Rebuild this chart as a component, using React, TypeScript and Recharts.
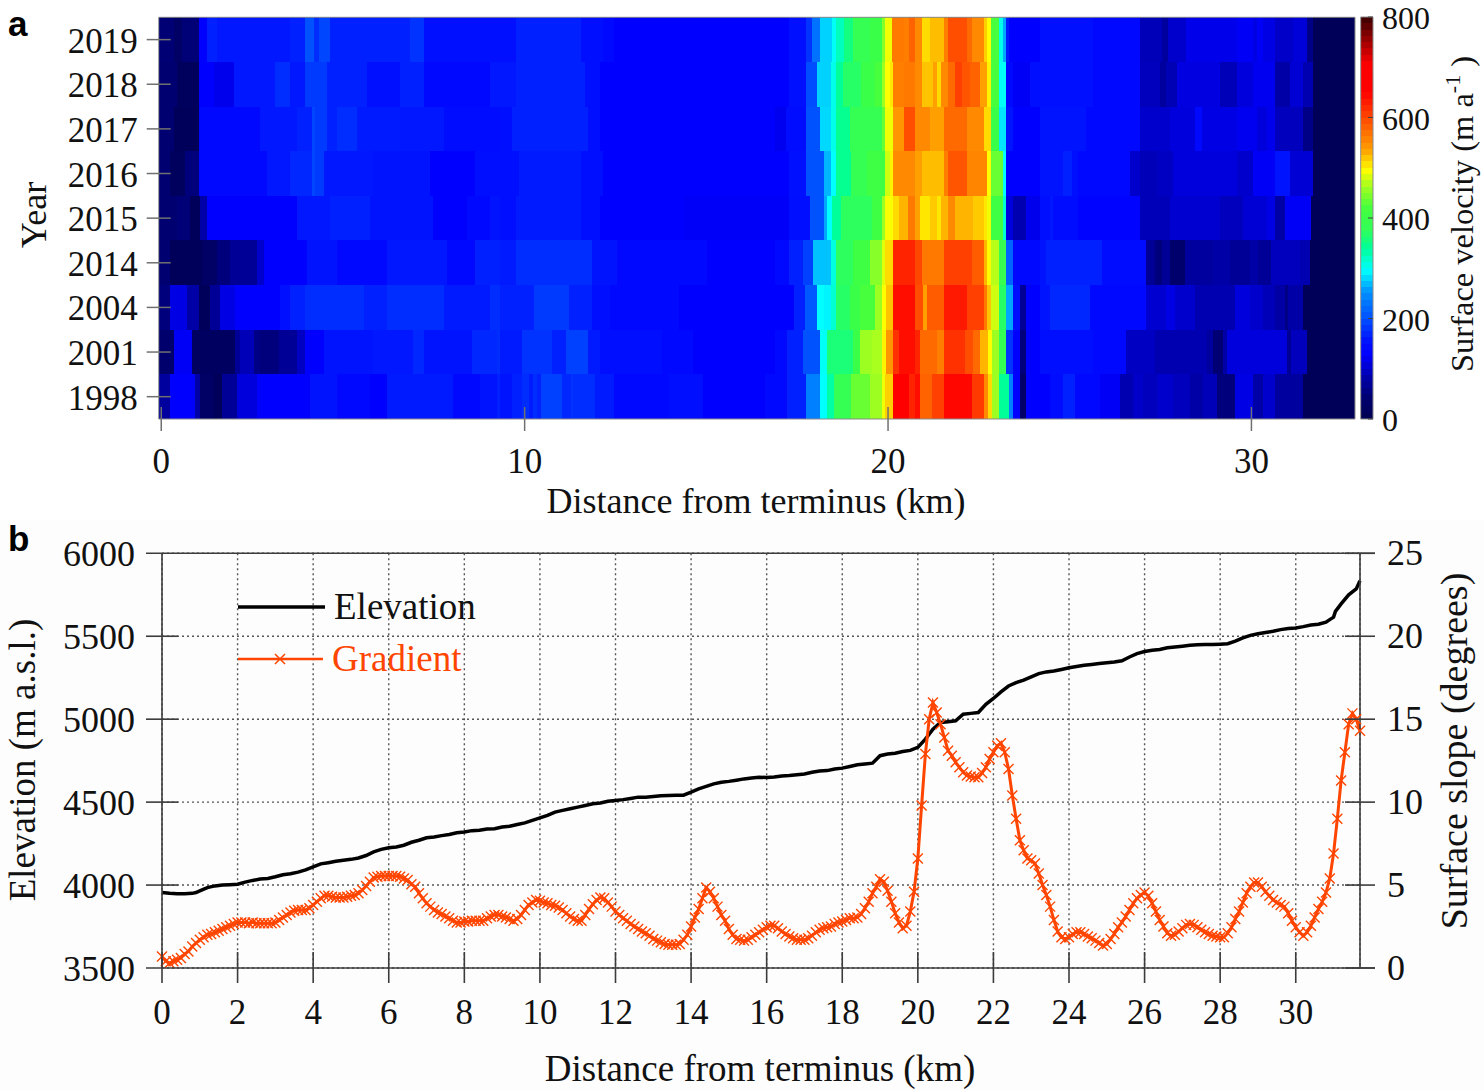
import React from 'react';
import {
  ComposedChart,
  Line,
  XAxis,
  YAxis,
  CartesianGrid,
  ReferenceArea,
  Legend,
} from 'recharts';

type Seg = [number, number]; // [end of the stretch in km, velocity in m/a]

const years = ['1998', '2001', '2004', '2014', '2015', '2016', '2017', '2018', '2019'];

const row2019: Seg[] = [[0.34,45],[0.57,28],[1.05,47],[1.26,127],[1.53,165],[3.55,158],[3.96,165],[4.19,202],[4.33,174],[4.65,193],[6.85,165],[7.22,179],[9.75,152],[11.55,165],[12.17,149],[12.45,140],[17.28,127],[17.75,152],[17.9,179],[18.13,228],[18.46,278],[18.56,300],[18.8,325],[19.03,355],[19.51,385],[19.84,400],[19.93,450],[20.12,490],[20.45,565],[20.59,560],[20.74,580],[20.93,552],[21.16,510],[21.54,523],[21.64,560],[22.16,595],[22.3,575],[22.63,552],[22.73,515],[22.82,495],[23.06,420],[23.15,305],[23.25,261],[23.34,160],[24.17,127],[25.65,152],[26.93,140],[27.53,90],[27.71,74],[28.21,100],[29.59,116],[30.05,122],[30.14,113],[30.32,122],[30.64,113],[31.15,98],[31.52,107],[31.7,57],[32.85,10]];
const row2018: Seg[] = [[0.43,42],[1.05,17],[1.44,127],[1.99,117],[3.14,158],[3.55,174],[3.96,158],[4.56,184],[5.66,165],[6.57,152],[7.22,165],[9.05,140],[9.75,158],[11.65,165],[12.07,149],[17.28,127],[17.75,152],[18.04,197],[18.42,278],[18.56,305],[18.75,340],[19.25,370],[19.65,400],[19.84,420],[19.93,460],[20.05,495],[20.14,505],[20.45,560],[20.74,565],[20.93,552],[21.24,520],[21.35,535],[21.45,510],[21.64,552],[21.83,575],[22.03,605],[22.25,590],[22.54,580],[22.73,535],[22.82,500],[23.06,420],[23.25,300],[23.44,140],[23.91,122],[24.17,149],[25.65,152],[26.93,140],[27.48,92],[27.66,74],[27.94,88],[29.13,111],[29.59,90],[30.05,109],[30.64,119],[31.06,80],[31.42,104],[31.7,85],[32.85,10]];
const row2017: Seg[] = [[0.34,42],[1.05,15],[2.72,140],[3.73,158],[4.14,165],[4.24,193],[4.56,184],[4.83,165],[5.38,174],[6.57,160],[7.77,158],[9.33,146],[9.66,149],[11.74,165],[12.07,149],[16.9,127],[17.19,119],[17.75,146],[18.13,202],[18.42,281],[18.56,305],[18.94,345],[19.84,385],[19.93,435],[20.14,490],[20.45,543],[20.74,595],[21.16,552],[21.54,535],[22.16,575],[22.63,552],[22.82,510],[23.06,400],[23.25,286],[23.44,155],[24.17,127],[25.46,155],[26.93,140],[27.76,100],[28.44,109],[28.63,140],[29.59,113],[30.14,119],[30.42,109],[30.64,117],[31.42,92],[31.7,57],[32.85,10]];
const row2016: Seg[] = [[0.25,42],[0.66,17],[1.05,50],[2.91,140],[3.55,158],[4.14,170],[4.24,193],[4.47,184],[5.84,158],[7.4,155],[8.64,127],[9.33,149],[9.85,149],[11.55,160],[12.17,149],[17.28,127],[17.75,152],[18.23,202],[18.42,267],[18.56,296],[18.99,345],[19.41,385],[19.93,410],[20.05,478],[20.14,500],[20.74,552],[20.93,535],[21.54,523],[21.64,560],[22.16,590],[22.73,556],[22.82,495],[23.15,435],[23.25,296],[24.17,127],[24.82,155],[25.05,165],[25.23,149],[26.66,140],[26.93,100],[27.39,90],[27.85,95],[29.59,109],[30.05,100],[30.64,122],[31.06,155],[31.7,104],[32.85,10]];
const row2015: Seg[] = [[0.43,42],[0.8,47],[1.07,15],[1.26,80],[3.73,127],[4.65,158],[5.75,165],[7.49,155],[8.41,127],[9.05,140],[9.33,155],[9.75,149],[11.55,160],[12.07,149],[14.39,127],[17.28,124],[17.85,149],[18.23,202],[18.32,261],[18.46,296],[18.7,340],[19.55,375],[19.84,410],[19.93,460],[20.14,493],[20.31,510],[20.55,526],[20.74,565],[20.88,535],[21.16,505],[21.35,517],[21.45,505],[21.64,526],[21.83,552],[22.35,526],[22.63,517],[22.73,505],[22.82,490],[23.15,410],[23.25,315],[23.44,109],[23.81,85],[24.17,117],[24.46,149],[24.55,158],[25.23,146],[26.93,132],[27.76,90],[29.13,102],[29.77,92],[30.42,104],[30.64,113],[30.92,80],[31.65,122],[32.85,10]];
const row2014: Seg[] = [[0.25,42],[1.12,15],[1.53,28],[1.9,50],[2.63,68],[2.82,100],[4.01,127],[4.83,155],[6.21,140],[7.86,158],[8.64,140],[9.33,165],[9.75,160],[11.84,174],[12.55,155],[15.01,140],[16.9,127],[17.28,140],[17.66,165],[17.94,188],[18.42,272],[18.56,310],[19.03,375],[19.51,410],[19.84,450],[19.93,485],[20.14,510],[20.74,625],[20.93,600],[21.54,565],[22.3,605],[22.63,585],[22.73,526],[22.82,497],[23.06,470],[23.25,390],[23.44,217],[24.17,140],[24.36,155],[25.88,165],[27.11,146],[27.34,68],[27.53,50],[27.76,68],[28.17,38],[28.95,74],[29.41,80],[29.96,68],[30.19,80],[30.55,68],[31.33,92],[31.61,85],[32.85,10]];
const row2004: Seg[] = [[0.25,50],[0.71,113],[1.05,80],[1.35,15],[1.62,68],[2.04,113],[3.27,127],[3.55,152],[3.96,165],[5.57,174],[6.21,165],[7.77,174],[9.05,160],[9.33,174],[10.27,165],[11.22,184],[11.84,165],[12.36,149],[14.25,140],[17.42,127],[17.71,165],[18.04,207],[18.23,296],[18.42,292],[18.56,315],[18.94,370],[19.22,400],[19.65,420],[19.84,460],[19.95,495],[20.14,520],[20.74,640],[20.97,595],[21.07,535],[21.54,585],[22.16,632],[22.63,605],[22.73,565],[22.82,520],[23.06,478],[23.25,370],[23.44,261],[23.63,149],[23.81,68],[24.17,127],[24.46,155],[25.56,170],[27.11,140],[27.66,102],[27.89,113],[28.44,100],[29.54,85],[29.96,109],[30.32,100],[30.64,90],[30.92,78],[31.01,57],[31.42,80],[32.85,10]];
const row2001: Seg[] = [[0.34,38],[0.84,122],[2.04,22],[2.17,68],[2.54,90],[2.72,57],[3.23,50],[3.73,68],[3.96,95],[4.47,127],[5.84,155],[6.94,158],[7.22,170],[8.55,155],[9.23,170],[9.33,174],[9.94,160],[10.75,179],[11.14,165],[11.74,188],[12.07,160],[13.78,149],[14.63,140],[16.9,127],[17.23,140],[17.66,165],[18.13,202],[18.32,300],[19.03,360],[19.22,400],[19.55,460],[19.84,465],[19.95,500],[20.14,543],[20.31,615],[20.74,640],[20.88,625],[21.35,575],[21.54,560],[22.11,615],[22.35,595],[22.54,575],[22.75,526],[22.85,495],[23.06,460],[23.25,380],[23.44,179],[23.64,127],[23.81,50],[24.17,127],[25.65,149],[26.56,140],[27.34,95],[28.77,85],[28.95,74],[29.22,45],[29.32,80],[30.97,109],[31.1,68],[31.52,92],[32.85,10]];
const row1998: Seg[] = [[0.25,74],[0.94,127],[1.07,80],[1.44,28],[1.67,13],[2.08,68],[2.63,109],[4.1,127],[4.83,155],[5.75,140],[6.21,127],[8.04,160],[8.78,140],[9.23,155],[9.33,165],[9.66,155],[9.94,165],[10.13,174],[10.24,160],[10.35,174],[10.46,165],[11.03,188],[11.27,170],[11.33,179],[11.93,174],[12.45,160],[13.97,140],[14.91,149],[16.62,127],[17.23,140],[17.75,165],[18.13,238],[18.32,296],[18.51,335],[18.99,385],[19.51,435],[19.84,460],[19.93,490],[20.14,515],[20.59,650],[20.74,625],[20.88,640],[21.21,580],[21.54,605],[22.3,645],[22.63,610],[22.75,552],[22.85,510],[23.06,460],[23.34,340],[23.45,238],[23.64,127],[23.81,32],[24.17,127],[24.46,127],[24.82,146],[25.14,165],[25.83,140],[26.38,122],[26.75,85],[27.02,98],[27.39,92],[27.85,100],[28.31,92],[28.67,80],[29.04,90],[29.54,50],[30.05,113],[30.32,80],[30.64,100],[31.42,74],[32.85,10]];

const velocityRows = [row1998, row2001, row2004, row2014, row2015, row2016, row2017, row2018, row2019];

const distanceTicksA = [0, 10, 20, 30];
const velocityTicks = [0, 200, 400, 600, 800];
const distanceTicksB = [0, 2, 4, 6, 8, 10, 12, 14, 16, 18, 20, 22, 24, 26, 28, 30];
const elevationTicks = [3500, 4000, 4500, 5000, 5500, 6000];
const slopeTicks = [0, 5, 10, 15, 20, 25];

// surface slope, one value every 0.1 km, one line per km
const slope = [
  0.7,0.4,0.3,0.4,0.5,0.6,0.85,1.0,1.3,1.5,
  1.7,1.85,2.0,2.05,2.15,2.25,2.35,2.45,2.55,2.65,
  2.75,2.75,2.75,2.7,2.75,2.7,2.7,2.7,2.7,2.7,
  2.75,2.9,3.05,3.2,3.35,3.45,3.5,3.5,3.5,3.6,
  3.8,4.0,4.2,4.35,4.35,4.3,4.25,4.25,4.25,4.3,
  4.35,4.4,4.5,4.7,4.95,5.2,5.45,5.5,5.55,5.55,
  5.55,5.55,5.55,5.5,5.4,5.3,5.05,4.9,4.5,4.2,
  3.9,3.7,3.5,3.35,3.25,3.1,3.0,2.85,2.75,2.75,
  2.8,2.8,2.85,2.85,2.85,2.85,3.0,3.1,3.2,3.2,
  3.1,3.05,2.95,2.85,2.95,3.2,3.5,3.8,3.95,4.1,
  4.05,3.95,3.9,3.8,3.75,3.65,3.5,3.3,3.1,2.95,
  2.85,2.85,3.2,3.55,3.85,4.1,4.25,4.2,3.95,3.7,
  3.4,3.2,3.0,2.85,2.65,2.5,2.35,2.2,2.1,1.95,
  1.75,1.65,1.55,1.45,1.4,1.4,1.4,1.45,1.7,2.0,
  2.5,3.05,3.55,4.2,4.85,4.6,4.2,3.7,3.2,2.85,
  2.35,2.0,1.75,1.7,1.65,1.7,1.85,2.0,2.15,2.3,
  2.45,2.55,2.55,2.4,2.2,2.05,1.9,1.8,1.7,1.7,
  1.7,1.8,1.95,2.15,2.3,2.4,2.45,2.5,2.65,2.75,
  2.8,2.9,3.0,3.0,3.05,3.25,3.6,4.0,4.5,4.9,
  5.35,5.2,4.65,4.0,3.3,2.75,2.4,2.55,3.4,4.6,
  6.6,9.8,12.9,15.0,16.0,15.4,14.7,13.9,13.1,12.8,
  12.4,12.1,11.8,11.6,11.55,11.5,11.5,11.75,12.1,12.6,
  13.0,13.4,13.55,13.0,12.0,10.4,9.0,7.7,7.1,6.6,
  6.5,6.3,5.7,5.0,4.4,3.7,2.9,2.2,1.85,1.75,
  1.85,2.05,2.15,2.15,2.05,1.9,1.8,1.65,1.5,1.35,
  1.45,1.75,2.05,2.45,2.75,3.1,3.5,3.9,4.2,4.4,
  4.55,4.35,3.9,3.4,2.9,2.5,2.1,1.95,2.0,2.2,
  2.4,2.6,2.65,2.6,2.45,2.3,2.15,2.05,1.95,1.9,
  1.85,1.85,2.1,2.45,2.95,3.4,3.95,4.5,4.9,5.15,
  5.15,4.9,4.6,4.35,4.1,3.95,3.8,3.7,3.3,2.85,
  2.45,2.15,1.95,2.15,2.55,3.05,3.55,4.0,4.55,5.4,
  6.9,9.0,11.3,13.0,14.7,15.35,15.0,14.3,
];

// [km, elevation m]
const elevation: Seg[] = [
  [0,3955],[0.2,3950],[0.4,3948],[0.6,3947],[0.8,3950],[0.9,3955],[1,3965],[1.2,3985],[1.4,3995],[1.6,4000],[1.8,4002],
  [2,4005],[2.2,4018],[2.4,4028],[2.6,4036],[2.8,4040],[3,4050],[3.2,4062],[3.4,4068],[3.6,4078],[3.8,4092],
  [4,4110],[4.2,4128],[4.4,4135],[4.6,4143],[4.8,4150],[5,4155],[5.2,4163],[5.4,4178],[5.6,4200],[5.8,4215],
  [6,4225],[6.2,4230],[6.4,4240],[6.6,4258],[6.8,4270],[7,4285],[7.2,4290],[7.4,4298],[7.6,4305],[7.8,4315],
  [8,4320],[8.2,4328],[8.4,4330],[8.6,4338],[8.8,4340],[9,4350],[9.2,4355],[9.4,4365],[9.6,4375],[9.8,4390],
  [10,4405],[10.2,4420],[10.4,4440],[10.6,4450],[10.8,4460],[11,4470],[11.2,4480],[11.4,4490],[11.6,4495],[11.8,4505],
  [12,4510],[12.2,4515],[12.4,4522],[12.6,4530],[12.8,4530],[13,4534],[13.2,4538],[13.4,4540],[13.6,4542],[13.8,4542],
  [14,4560],[14.2,4580],[14.4,4595],[14.6,4610],[14.8,4620],[15,4625],[15.2,4632],[15.4,4640],[15.6,4645],[15.8,4650],
  [16,4648],[16.2,4652],[16.4,4658],[16.6,4660],[16.8,4665],[17,4670],[17.2,4680],[17.4,4688],[17.6,4690],[17.8,4700],
  [18,4705],[18.2,4715],[18.4,4725],[18.6,4730],[18.8,4735],[19,4780],[19.2,4790],[19.4,4795],[19.6,4805],[19.8,4812],
  [20,4830],[20.2,4880],[20.4,4940],[20.6,4980],[20.8,4985],[21,4990],[21.2,5030],[21.4,5035],[21.6,5040],[21.8,5090],
  [22,5125],[22.2,5165],[22.4,5200],[22.6,5220],[22.8,5235],[23,5255],[23.2,5275],[23.4,5285],[23.6,5290],[23.8,5300],
  [24,5310],[24.2,5318],[24.4,5325],[24.6,5330],[24.8,5335],[25,5340],[25.2,5345],[25.4,5352],[25.6,5375],[25.8,5395],
  [26,5408],[26.2,5415],[26.4,5420],[26.6,5430],[26.8,5435],[27,5440],[27.2,5445],[27.4,5448],[27.6,5450],[27.8,5450],
  [28,5452],[28.2,5455],[28.4,5470],[28.6,5490],[28.8,5505],[29,5515],[29.2,5522],[29.4,5530],[29.6,5540],[29.8,5547],
  [30,5550],[30.2,5558],[30.4,5568],[30.6,5572],[30.8,5585],[30.9,5600],[31,5615],[31.05,5650],[31.2,5695],[31.4,5750],[31.6,5785],[31.7,5835],
];

const slopeRows = slope.map((v, i) => ({ km: i / 10, slope: v }));
const elevationRows = elevation.map(([km, m]) => ({ km, m }));
// the heat map only needs its axes set up, the cells are reference areas
const heatAxisRows = distanceTicksA.map((x, i) => ({ x, y: i }));
const barAxisRows = velocityTicks.map((y) => ({ x: 0.5, y }));

const SERIF = '"Liberation Serif", "Times New Roman", serif';
const SANS = '"Liberation Sans", Arial, sans-serif';
const ORANGE = '#ff4500';
const AXIS = '#3c3c3c';

// colours
const rampStops: [number, number[]][] = [
  [0, [0, 0, 80]],
  [42, [0, 0, 112]],
  [82, [0, 0, 170]],
  [127, [0, 0, 255]],
  [153, [0, 16, 255]],
  [200, [0, 80, 255]],
  [252, [0, 144, 255]],
  [296, [0, 255, 255]],
  [340, [0, 255, 153]],
  [380, [51, 255, 85]],
  [416, [64, 255, 64]],
  [462, [160, 255, 32]],
  [495, [255, 255, 0]],
  [535, [255, 160, 0]],
  [575, [255, 106, 0]],
  [650, [255, 0, 0]],
  [705, [255, 0, 0]],
  [800, [58, 0, 0]],
];
const LEVEL = 12.5;
const colourLevels = Array.from({ length: 64 }, (_, i) => i);

const colourAt = (v: number) => {
  for (let i = 1; i < rampStops.length; i++) {
    const [v0, c0] = rampStops[i - 1];
    const [v1, c1] = rampStops[i];
    if (v <= v1) {
      const t = (v - v0) / (v1 - v0);
      const c = c0.map((a, k) => Math.round(a + (c1[k] - a) * t));
      return `rgb(${c[0]},${c[1]},${c[2]})`;
    }
  }
  return 'rgb(58,0,0)';
};

const Heatmap = () => (
  <div style={{ position: 'absolute', left: 0, top: 0 }}>
    <ComposedChart
      width={1484}
      height={520}
      data={heatAxisRows}
      margin={{ top: 17.3, left: 98.7, right: 129, bottom: 51 }}
    >
      <XAxis
        type="number"
        dataKey="x"
        domain={[-0.07, 32.85]}
        ticks={distanceTicksA}
        height={50}
        axisLine={false}
        tickLine={false}
        tickSize={0}
        tickMargin={0}
        interval={0}
        tick={({ x, y, payload }: any) => (
          <g>
            <line x1={x} x2={x} y1={y - 12} y2={y + 12} stroke="#707070" strokeWidth={1.5} />
            <text x={x} y={y + 54} textAnchor="middle" fontFamily={SERIF} fontSize={35} fill="#111">
              {payload.value}
            </text>
          </g>
        )}
      />
      <YAxis
        type="number"
        dataKey="y"
        domain={[0, 9]}
        ticks={years.map((_, i) => i + 0.5)}
        width={60}
        axisLine={false}
        tickLine={false}
        tickSize={0}
        tickMargin={0}
        interval={0}
        tick={({ x, y, payload }: any) => (
          <g>
            <line x1={x - 12} x2={x + 12} y1={y} y2={y} stroke="#707070" strokeWidth={1.5} />
            <text x={x - 21} y={y + 13} textAnchor="end" fontFamily={SERIF} fontSize={35} fill="#111">
              {years[payload.value - 0.5]}
            </text>
          </g>
        )}
      />
      {velocityRows.map((row, r) =>
        row.map(([end, v], i) => (
          <ReferenceArea
            key={`${r}-${i}`}
            x1={i === 0 ? -0.07 : row[i - 1][0]}
            x2={end}
            y1={r}
            y2={r + 1}
            fill={colourAt(v)}
            fillOpacity={1}
            stroke="none"
            shapeRendering="crispEdges"
          />
        )),
      )}
      <ReferenceArea x1={-0.07} x2={32.85} y1={0} y2={9} fill="none" stroke="#8a8a8a" strokeWidth={1} />
      <text x={8} y={36} fontFamily={SANS} fontWeight="bold" fontSize={35} fill="#000">a</text>
      <text transform="translate(46,215) rotate(-90)" textAnchor="middle" fontFamily={SERIF} fontSize={36} fill="#111">Year</text>
      <text x={756} y={513} textAnchor="middle" fontFamily={SERIF} fontSize={36} fill="#111">
        Distance from terminus (km)
      </text>
    </ComposedChart>
  </div>
);

const ColourBar = () => (
  <div style={{ position: 'absolute', left: 1300, top: 0 }}>
    <ComposedChart
      width={184}
      height={460}
      data={barAxisRows}
      margin={{ top: 17, left: 60.7, right: 81, bottom: 41 }}
    >
      <XAxis type="number" dataKey="x" domain={[0, 1]} hide />
      <YAxis
        orientation="right"
        type="number"
        dataKey="y"
        domain={[0, 800]}
        ticks={velocityTicks}
        width={30}
        axisLine={false}
        tickLine={false}
        tickSize={0}
        tickMargin={0}
        interval={0}
        tick={({ x, y, payload }: any) => (
          <g>
            <line x1={x - 5} x2={x} y1={y} y2={y} stroke="#444" strokeWidth={1} />
            <text x={x + 9} y={y + 12} textAnchor="start" fontFamily={SERIF} fontSize={32} fill="#111">
              {payload.value}
            </text>
          </g>
        )}
      />
      {colourLevels.map((l) => (
        <ReferenceArea
          key={l}
          x1={0}
          x2={1}
          y1={l * LEVEL}
          y2={(l + 1) * LEVEL}
          fill={colourAt((l + 0.5) * LEVEL)}
          fillOpacity={1}
          stroke="none"
          shapeRendering="crispEdges"
        />
      ))}
      <ReferenceArea x1={0} x2={1} y1={0} y2={800} fill="none" stroke="#8a8a8a" strokeWidth={1} />
      <text transform="translate(173,372) rotate(-90)" fontFamily={SERIF} fontSize={32.5} fill="#111">
        Surface velocity (m a
        <tspan dy={-13} fontSize={22}>-1</tspan>
        <tspan dy={13}> )</tspan>
      </text>
    </ComposedChart>
  </div>
);

const ProfileLegend = ({ payload }: any) => (
  <svg width={300} height={110} style={{ display: 'block', overflow: 'visible' }}>
    {(payload || []).map((item: any) =>
      item.dataKey === 'm' ? (
        <g key="m">
          <line x1={0} x2={87} y1={19} y2={19} stroke={item.color} strokeWidth={3.5} />
          <text x={96} y={31} fontFamily={SERIF} fontSize={37} fill="#111">{item.value}</text>
        </g>
      ) : (
        <g key="s">
          <line x1={0} x2={85} y1={71} y2={71} stroke={item.color} strokeWidth={2.5} />
          <path d="M37 66 L47 76 M47 66 L37 76" stroke={item.color} strokeWidth={1.5} />
          <text x={94} y={83} fontFamily={SERIF} fontSize={37} fill={item.color}>{item.value}</text>
        </g>
      ),
    )}
  </svg>
);

const SlopeMark = ({ cx, cy, index }: any) => (
  <path
    key={index}
    d={`M${cx - 5} ${cy - 5} L${cx + 5} ${cy + 5} M${cx + 5} ${cy - 5} L${cx - 5} ${cy + 5}`}
    stroke={ORANGE}
    strokeWidth={1.4}
    fill="none"
  />
);

const Profile = () => (
  <div style={{ position: 'absolute', left: 0, top: 520, background: '#fdfdfd' }}>
    <ComposedChart
      width={1484}
      height={571}
      data={slopeRows}
      margin={{ top: 33.3, left: 102, right: 64, bottom: 73 }}
    >
      <CartesianGrid stroke="#555" strokeDasharray="2 3" strokeWidth={1.4} />
      <XAxis
        type="number"
        dataKey="km"
        domain={[0, 31.7]}
        ticks={distanceTicksB}
        height={50}
        axisLine={false}
        tickLine={false}
        tickSize={0}
        tickMargin={0}
        interval={0}
        tick={({ x, y, payload }: any) => (
          <g>
            <line x1={x} x2={x} y1={y - 16} y2={y + 15} stroke={AXIS} strokeWidth={1.6} />
            <text x={x} y={y + 56} textAnchor="middle" fontFamily={SERIF} fontSize={35} fill="#111">
              {payload.value}
            </text>
          </g>
        )}
      />
      <YAxis
        type="number"
        domain={[3500, 6000]}
        ticks={elevationTicks}
        width={60}
        stroke={AXIS}
        strokeWidth={1.6}
        tickLine={false}
        tickSize={0}
        tickMargin={0}
        interval={0}
        tick={({ x, y, payload }: any) => {
          const edge = payload.value === 3500 || payload.value === 6000;
          return (
            <g>
              <line x1={x - 16} x2={edge ? x + 1213 : x + 16} y1={y} y2={y} stroke={AXIS} strokeWidth={1.6} />
              <text x={x - 27} y={y + 13} textAnchor="end" fontFamily={SERIF} fontSize={36} fill="#111">
                {payload.value}
              </text>
            </g>
          );
        }}
      />
      <YAxis
        yAxisId="slope"
        orientation="right"
        type="number"
        domain={[0, 25]}
        ticks={slopeTicks}
        width={60}
        stroke={AXIS}
        strokeWidth={1.6}
        tickLine={false}
        tickSize={0}
        tickMargin={0}
        interval={0}
        tick={({ x, y, payload }: any) => (
          <g>
            <line x1={x - 15} x2={x + 15} y1={y} y2={y} stroke={AXIS} strokeWidth={1.6} />
            <text x={x + 27} y={y + 12} textAnchor="start" fontFamily={SERIF} fontSize={36} fill="#111">
              {payload.value}
            </text>
          </g>
        )}
      />
      <Line
        data={elevationRows}
        dataKey="m"
        name="Elevation"
        stroke="#000"
        strokeWidth={3.5}
        dot={false}
        isAnimationActive={false}
      />
      <Line
        yAxisId="slope"
        dataKey="slope"
        name="Gradient"
        stroke={ORANGE}
        strokeWidth={3}
        dot={SlopeMark}
        isAnimationActive={false}
      />
      <Legend
        layout="vertical"
        align="center"
        verticalAlign="middle"
        content={ProfileLegend}
        wrapperStyle={{ left: 238, top: 68, width: 300, height: 110 }}
      />
      <text x={8} y={31} fontFamily={SANS} fontWeight="bold" fontSize={35} fill="#000">b</text>
      <text transform="translate(35,240) rotate(-90)" textAnchor="middle" fontFamily={SERIF} fontSize={37} fill="#111">
        Elevation (m a.s.l.)
      </text>
      <text transform="translate(1467,231) rotate(-90)" textAnchor="middle" fontFamily={SERIF} fontSize={38} fill="#111">
        Surface slope (degrees)
      </text>
      <text x={760} y={561} textAnchor="middle" fontFamily={SERIF} fontSize={37} fill="#111">
        Distance from terminus (km)
      </text>
    </ComposedChart>
  </div>
);

export default function App() {
  return (
    <div style={{ position: 'absolute', left: 0, top: 0, width: 1484, height: 1091, background: '#fff' }}>
      <Heatmap />
      <ColourBar />
      <Profile />
    </div>
  );
}
